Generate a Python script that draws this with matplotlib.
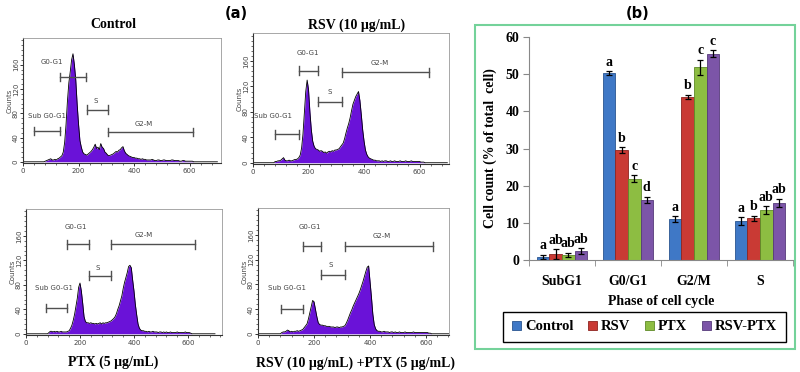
import matplotlib
matplotlib.use("Agg")
import matplotlib.pyplot as plt
from matplotlib.patches import Rectangle
from matplotlib.ticker import MultipleLocator
import numpy as np

# ---------------- data ----------------
# flow cytometry histograms, counts per channel (channel step 5, 0..700)
channel = np.arange(0, 705, 5)

control_counts = (
    [0]*16 + [1, 2, 3, 4] +
    [5, 3, 3, 4, 3, 5, 6, 8, 10, 16, 32, 62, 100, 130, 148, 168, 178, 160, 135, 95] +
    [62, 35, 24, 16, 13, 12, 11, 13, 15, 17, 20, 24, 29, 22, 24, 20, 30, 24, 22, 16] +
    [14, 11, 10, 11, 12, 13, 15, 17, 16, 19, 20, 23, 25, 18, 14, 12, 10, 9, 8, 7] +
    [7, 6, 6, 5, 5, 4, 5, 4, 4, 3, 3, 3, 3, 4, 3, 2, 2, 3, 3, 2] +
    [2, 3, 3, 2, 2, 2, 2, 3, 3, 2, 2, 2, 2, 1, 1, 2, 2, 1, 1, 1] +
    [1, 1, 1] + [0]*17 + [0]
)

rsv_counts = (
    [0]*16 + [2, 2, 3, 3] +
    [4, 6, 8, 4, 3, 3, 4, 3, 3, 4, 5, 5, 6, 8, 12, 23, 45, 78, 112, 130] +
    [115, 80, 52, 34, 26, 22, 21, 20, 18, 19, 18, 16, 17, 15, 17, 18, 17, 19, 18, 20] +
    [20, 21, 22, 25, 28, 31, 38, 47, 55, 62, 71, 82, 92, 98, 104, 108, 112, 98, 76, 52] +
    [34, 20, 13, 9, 7, 6, 5, 4, 4, 3, 3, 3, 2, 3, 2, 3, 3, 2, 2, 3] +
    [2, 2, 3, 2, 2, 2, 3, 2, 2, 2, 3, 2, 2, 2, 3, 2, 2, 2, 2, 2] +
    [2, 1, 1, 1] + [0]*16 + [0]
)

ptx_counts = (
    [0]*17 + [2, 4, 4] +
    [3, 4, 3, 4, 3, 3, 4, 3, 3, 3, 3, 4, 5, 9, 14, 22, 32, 45, 58, 76] +
    [83, 70, 50, 28, 20, 18, 18, 17, 18, 17, 17, 16, 17, 16, 17, 18, 16, 18, 17, 18] +
    [18, 19, 20, 21, 23, 25, 28, 33, 40, 46, 54, 62, 74, 84, 92, 100, 110, 112, 108, 88] +
    [70, 48, 31, 16, 9, 6, 5, 5, 4, 4, 3, 4, 3, 3, 4, 3, 3, 3, 2, 3] +
    [3, 2, 3, 2, 3, 2, 2, 3, 2, 2, 2, 2, 3, 2, 2, 2, 2, 2, 3, 2] +
    [2, 2, 1] + [0]*17 + [0]
)

combo_counts = (
    [0]*17 + [2, 3, 3] +
    [4, 6, 5, 3, 4, 3, 4, 4, 5, 4, 5, 6, 7, 10, 13, 16, 24, 34, 44, 54] +
    [52, 40, 28, 18, 15, 14, 14, 13, 13, 12, 12, 12, 11, 11, 11, 10, 11, 11, 10, 11] +
    [11, 12, 13, 17, 22, 28, 34, 39, 45, 50, 55, 60, 65, 71, 78, 85, 93, 101, 108, 110] +
    [85, 60, 32, 15, 8, 5, 4, 4, 3, 3, 4, 3, 3, 3, 2, 3, 3, 2, 3, 2] +
    [2, 3, 2, 2, 2, 3, 2, 2, 2, 2, 2, 3, 2, 2, 2, 2, 2, 2, 2, 2] +
    [2, 2, 1, 1] + [0]*16 + [0]
)

# gates: (label, start channel, end channel, marker height, label x, label y)
control_gates = [("Sub G0-G1", 41, 132, 51, 86, 76), ("G0-G1", 132, 228, 140, 104, 165),
                 ("S", 230, 305, 86, 260, 101), ("G2-M", 305, 611, 49, 435, 63)]
rsv_gates = [("Sub G0-G1", 79, 166, 45, 71, 73), ("G0-G1", 166, 233, 145, 197, 172),
             ("S", 233, 320, 96, 277, 112), ("G2-M", 320, 634, 142, 458, 157)]
ptx_gates = [("Sub G0-G1", 75, 153, 42, 104, 75), ("G0-G1", 153, 233, 146, 184, 175),
             ("S", 233, 316, 95, 267, 108), ("G2-M", 316, 625, 146, 437, 162)]
combo_gates = [("Sub G0-G1", 81, 162, 40, 102, 75), ("G0-G1", 162, 224, 142, 186, 173),
               ("S", 224, 311, 96, 261, 112), ("G2-M", 311, 626, 142, 442, 158)]

# panel (b) bar chart
phases = ["SubG1", "G0/G1", "G2/M", "S"]
treatments = ["Control", "RSV", "PTX", "RSV-PTX"]
control_pct = [0.9, 50.3, 11.0, 10.5]
rsv_pct = [1.6, 29.5, 43.9, 11.2]
ptx_pct = [1.4, 21.9, 51.9, 13.4]
combo_pct = [2.4, 16.2, 55.5, 15.4]
control_err = [0.5, 0.5, 0.8, 1.0]
rsv_err = [1.3, 0.8, 0.6, 0.7]
ptx_err = [0.6, 0.9, 2.0, 1.0]
combo_err = [0.8, 0.8, 1.0, 1.1]
control_sig = ["a", "a", "a", "a"]
rsv_sig = ["ab", "b", "b", "b"]
ptx_sig = ["ab", "c", "c", "ab"]
combo_sig = ["ab", "d", "c", "ab"]

# ---------------- layout helpers ----------------
W, H = 800, 372
fig = plt.figure(figsize=(W / 100, H / 100), dpi=100)


def rect(l, t, r, b):
    return [l / W, 1 - b / H, (r - l) / W, (b - t) / H]


def fx(x):
    return x / W


def fy(y):
    return 1 - y / H


SERIF = "Liberation Serif"
hist_color = "#6a12d8"
gate_color = "#505050"

panels = [
    ("Control", control_counts, control_gates, (23, 38, 221, 163), 713, (113, 25)),
    ("RSV (10 \u03bcg/mL)", rsv_counts, rsv_gates, (253, 33, 449, 164), 706, (357, 25)),
    ("PTX (5 \u03bcg/mL)", ptx_counts, ptx_gates, (26, 209, 222, 335), 726, (113, 362)),
    ("RSV (10 \u03bcg/mL) +PTX (5 \u03bcg/mL)", combo_counts, combo_gates, (258, 208, 449, 335), 682, (355, 363)),
]

for title, counts, gates, box, xmax, tpos in panels:
    ax = fig.add_axes(rect(*box))
    ax.fill_between(channel, counts, 0, color=hist_color, lw=0)
    ax.plot(channel, counts, color="black", lw=0.6)
    for name, g1, g2, gy, lx, ly in gates:
        ax.plot([g1, g2], [gy, gy], color=gate_color, lw=1.0)
        ax.plot([g1, g1], [gy - 7, gy + 7], color=gate_color, lw=1.0)
        ax.plot([g2, g2], [gy - 7, gy + 7], color=gate_color, lw=1.0)
        ax.text(lx, ly, name, ha="center", va="center", fontsize=5, color="#444444")
    ax.set_xlim(0, xmax)
    ax.set_ylim(-2, 204)
    ax.set_xticks([0, 200, 400, 600])
    ax.set_yticks([0, 40, 80, 120, 160])
    ax.xaxis.set_minor_locator(MultipleLocator(40))
    ax.yaxis.set_minor_locator(MultipleLocator(8))
    ax.tick_params(axis="both", which="major", labelsize=5, length=2.5, width=0.7,
                   colors="#333333", labelcolor="#444444", pad=1)
    ax.tick_params(axis="y", which="major", pad=0.5)
    ax.tick_params(axis="both", which="minor", length=1.6, width=0.5, colors="#333333")
    for lab in ax.get_yticklabels():
        lab.set_rotation(90)
        lab.set_va("center")
    ax.set_ylabel("Counts", fontsize=5, color="#444444", labelpad=0)
    for s in ["top", "right"]:
        ax.spines[s].set_color("#999999")
        ax.spines[s].set_linewidth(0.6)
    for s in ["left", "bottom"]:
        ax.spines[s].set_color("#333333")
        ax.spines[s].set_linewidth(0.8)
    fig.text(fx(tpos[0]), fy(tpos[1]), title, ha="center", va="center",
             fontsize=10, fontweight="bold", family=SERIF)

fig.text(fx(236), fy(14), "(a)", ha="center", va="center", fontsize=10.5, fontweight="bold")
fig.text(fx(638), fy(14), "(b)", ha="center", va="center", fontsize=10.5, fontweight="bold")

# ---------------- panel (b) ----------------
fig.add_artist(Rectangle((fx(475), fy(349)), 320 / W, 324 / H, transform=fig.transFigure,
                         fill=False, edgecolor="#74d29a", lw=1.5))

axb = fig.add_axes(rect(529, 37, 793, 260))
bar_colors = ["#3f78c6", "#c93a34", "#8dbd42", "#7c55a8"]
edge_colors = ["#2a5590", "#8e2420", "#5f8a28", "#553a7a"]
series = [control_pct, rsv_pct, ptx_pct, combo_pct]
errors = [control_err, rsv_err, ptx_err, combo_err]
sigs = [control_sig, rsv_sig, ptx_sig, combo_sig]
bw = 0.19
pos = np.arange(len(phases))
handles = []
for j in range(4):
    xs = pos + (j - 1.5) * bw
    h = axb.bar(xs, series[j], bw, color=bar_colors[j], edgecolor=edge_colors[j], lw=0.6)
    handles.append(h)
    axb.errorbar(xs, series[j], yerr=errors[j], fmt="none", ecolor="black",
                 elinewidth=0.9, capsize=2.2, capthick=0.9)
    for x, v, e, s in zip(xs, series[j], errors[j], sigs[j]):
        axb.text(x, v + e + 2.4, s, ha="center", va="center", fontsize=10,
                 fontweight="bold", family=SERIF)

axb.set_xlim(-0.5, 3.5)
axb.set_ylim(0, 60)
axb.set_yticks(range(0, 61, 10))
axb.set_xticks(pos)
axb.set_xticklabels(phases)
axb.set_xticks(np.arange(-0.5, 4, 1), minor=True)
axb.tick_params(axis="x", which="major", length=0, pad=11)
axb.tick_params(axis="x", which="minor", length=4, color="#888888")
axb.tick_params(axis="y", length=4, color="#888888", pad=3)
for lab in axb.get_xticklabels() + axb.get_yticklabels():
    lab.set_fontfamily(SERIF)
    lab.set_fontweight("bold")
    lab.set_fontsize(10)
for s in ["top", "right"]:
    axb.spines[s].set_visible(False)
for s in ["left", "bottom"]:
    axb.spines[s].set_color("#888888")
axb.set_ylabel("Cell count (% of total  cell)", fontsize=10, fontweight="bold",
               family=SERIF, labelpad=6)
axb.set_xlabel("Phase of cell cycle", fontsize=10, fontweight="bold", family=SERIF,
               labelpad=5)

axb.legend(handles, treatments, ncol=4, loc="center",
           bbox_to_anchor=(fx(503), fy(342), 283 / W, 30 / H),
           bbox_transform=fig.transFigure, mode="expand", frameon=True,
           fancybox=False, edgecolor="black", framealpha=1,
           handlelength=0.6, handleheight=0.6, handletextpad=0.3,
           borderaxespad=0, borderpad=0.6,
           prop={"family": SERIF, "weight": "bold", "size": 10.5})

fig.savefig("out.png", dpi=100)
